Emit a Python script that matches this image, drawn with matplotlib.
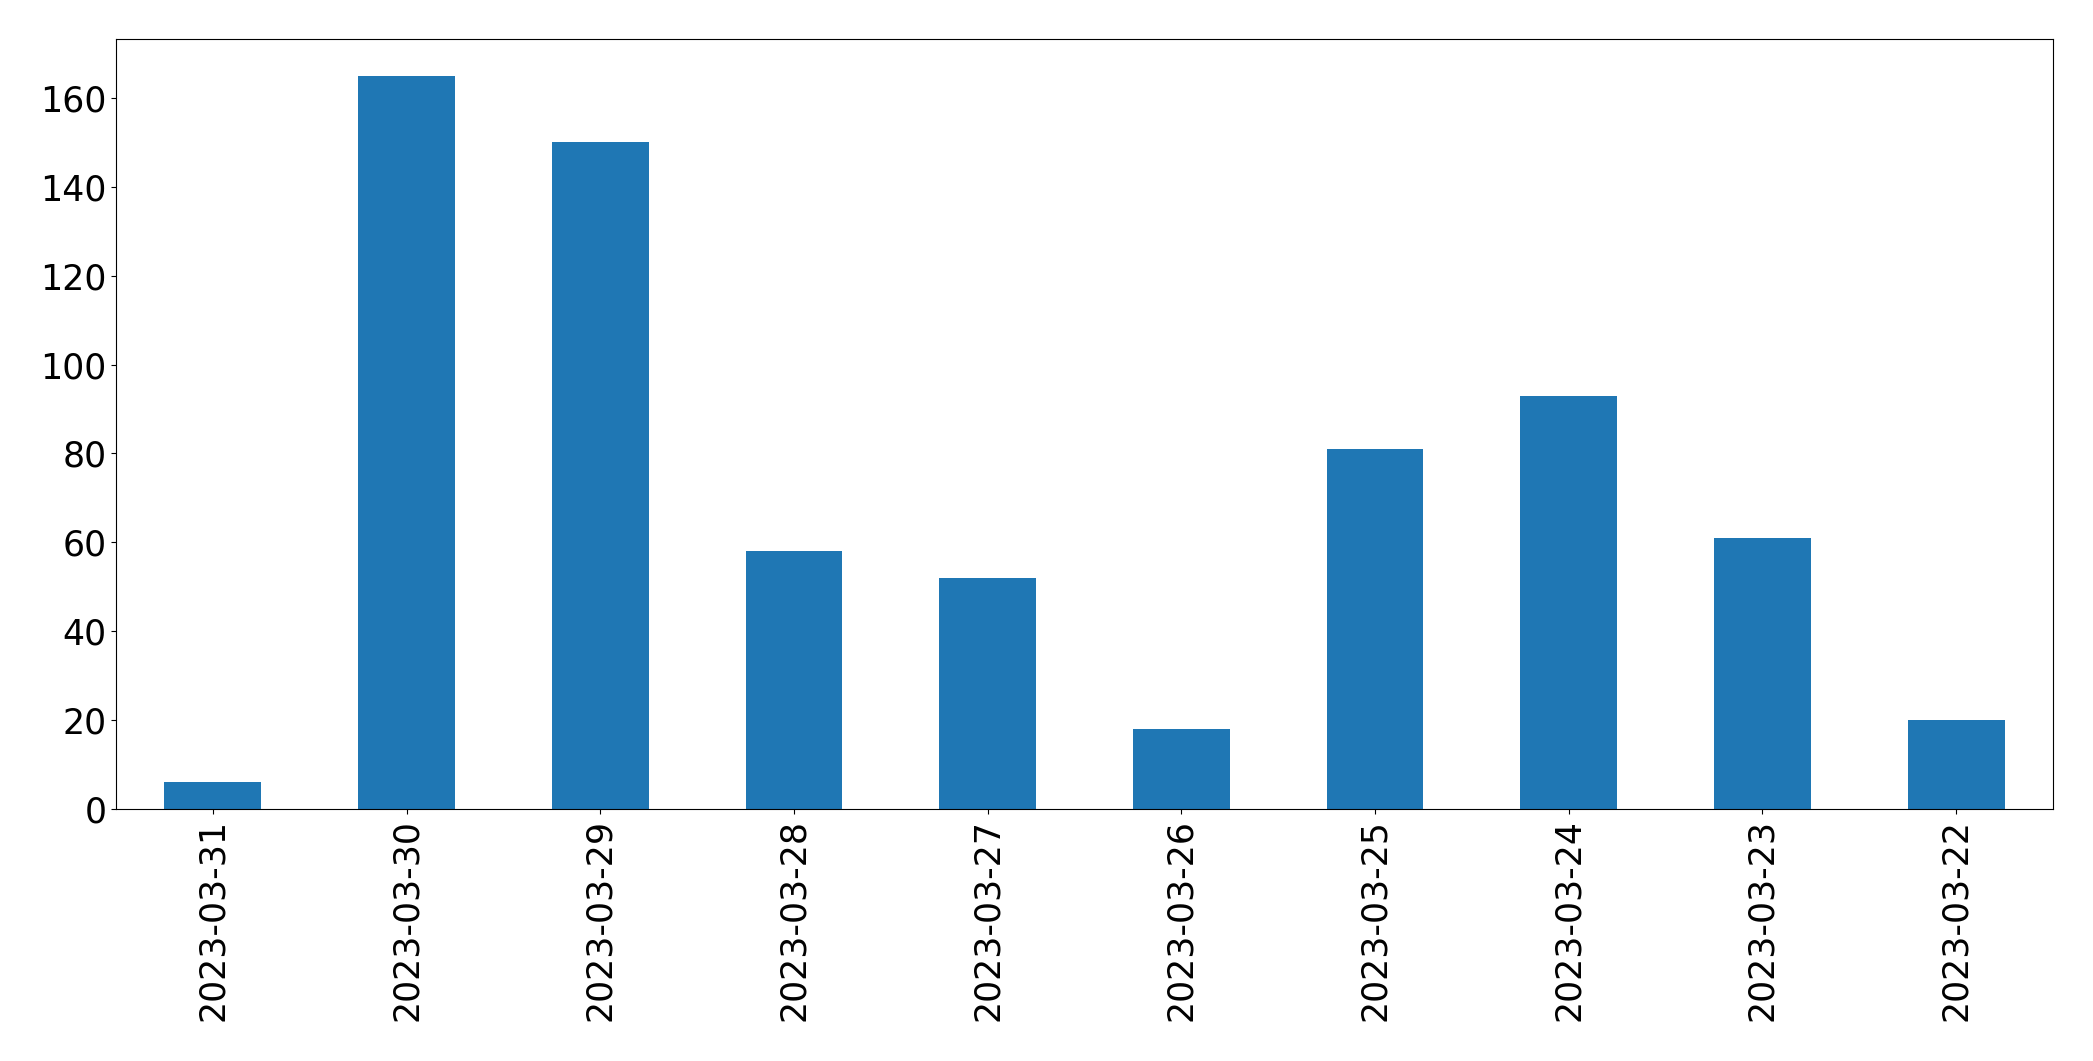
import matplotlib
matplotlib.use("Agg")
import matplotlib.pyplot as plt

dates = ["2023-03-31", "2023-03-30", "2023-03-29", "2023-03-28", "2023-03-27",
         "2023-03-26", "2023-03-25", "2023-03-24", "2023-03-23", "2023-03-22"]
counts = [6, 165, 150, 58, 52, 18, 81, 93, 61, 20]

fig = plt.figure(figsize=(20.93, 10.61), dpi=100)
ax = fig.add_axes([116/2093, 1 - 809/1061, (2053-116)/2093, (809-39)/1061])
x = range(len(dates))
ax.bar(x, counts, width=0.5, color="#1f77b4")
ax.set_xticks(list(x))
ax.set_xticklabels(dates, rotation=90, fontsize=25)
ax.tick_params(axis="y", labelsize=25)
ax.set_xlim(-0.5, len(dates) - 0.5)
ax.set_ylim(0, 173.25)
fig.savefig("out.png", dpi=100)
